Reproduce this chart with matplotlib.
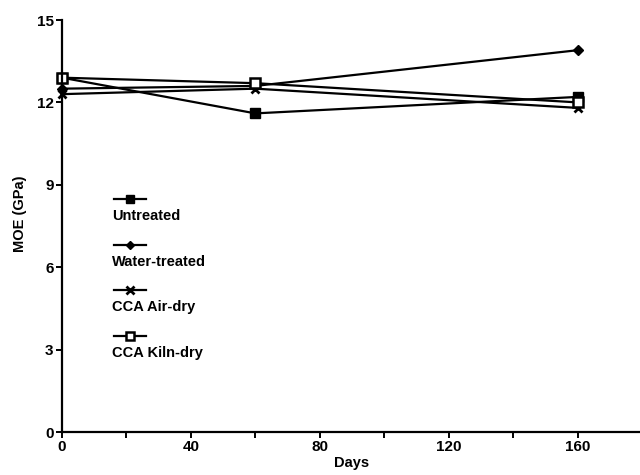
import matplotlib.pyplot as plt
from matplotlib.lines import Line2D

days = [0, 60, 160]
untreated = [12.9, 11.6, 12.2]
water_treated = [12.5, 12.6, 13.9]
cca_air_dry = [12.3, 12.5, 11.8]
cca_kiln_dry = [12.9, 12.7, 12.0]

series_names = ['Untreated', 'Water-treated', 'CCA Air-dry', 'CCA Kiln-dry']

plt.rcParams['font.family'] = ['Liberation Sans', 'DejaVu Sans']
plt.rcParams['font.weight'] = 'bold'

fig = plt.figure(figsize=(6.4, 4.75), dpi=100)
ax = fig.add_axes([62 / 640, 43 / 475, 580 / 640, 412 / 475])

styles = [
    dict(marker='s', markersize=7.5, markerfacecolor='black', markeredgecolor='black'),
    dict(marker='D', markersize=5, markerfacecolor='black', markeredgecolor='black'),
    dict(marker='x', markersize=6, markeredgewidth=2, markeredgecolor='black'),
    dict(marker='s', markersize=6.5, markerfacecolor='white', markeredgecolor='black', markeredgewidth=1.8),
]
values = [untreated, water_treated, cca_air_dry, cca_kiln_dry]

for vals, st in zip(values, styles):
    ax.plot(days, vals, color='black', linewidth=1.6, clip_on=False, **st)

# legend: line sample above each label
leg_y = [0.566, 0.454, 0.345, 0.233]
for name, st, y in zip(series_names, styles, leg_y):
    st_small = dict(st)
    st_small['markersize'] = st['markersize'] * 0.85
    ax.add_line(Line2D([0.09, 0.1175, 0.145], [y, y, y], transform=ax.transAxes,
                       color='black', linewidth=1.6, markevery=[1], **st_small))
    ax.text(0.087, y - 0.042, name, transform=ax.transAxes, fontsize=10.5,
            fontweight='bold', va='center', ha='left')

ax.set_xlim(0, 180)
ax.set_ylim(0, 15)
ax.set_xticks([0, 20, 40, 60, 80, 100, 120, 140, 160])
ax.set_xticklabels(['0', '', '40', '', '80', '', '120', '', '160'])
ax.set_yticks([0, 3, 6, 9, 12, 15])

ax.spines['top'].set_visible(False)
ax.spines['right'].set_visible(False)
ax.spines['left'].set_linewidth(1.6)
ax.spines['bottom'].set_linewidth(1.6)
ax.tick_params(direction='out', length=4, width=1.4, labelsize=11, pad=2)
for lbl in ax.get_xticklabels() + ax.get_yticklabels():
    lbl.set_fontweight('bold')

ax.set_xlabel('Days', fontsize=10.5, fontweight='bold', labelpad=1)
ax.set_ylabel('MOE (GPa)', fontsize=10.5, fontweight='bold', labelpad=6)
ax.yaxis.set_label_coords(-0.06, 0.53)

fig.savefig('out.png', dpi=100)
